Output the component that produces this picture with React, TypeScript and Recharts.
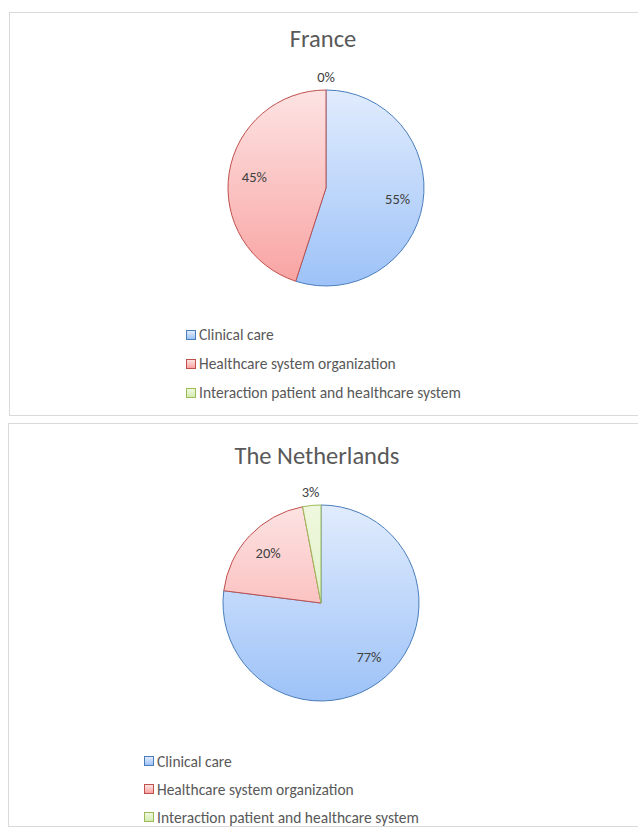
import { PieChart, Pie, Cell, Legend } from "recharts"

const categories = ["Clinical care", "Healthcare system organization", "Interaction patient and healthcare system"]
const franceValues = [55, 45, 0]
const netherlandsValues = [77, 20, 3]

const STROKES = ["#4a7ebb", "#c0504d", "#9bbb59"]
const GRADS = [
  ["#e1ecfd", "#9dc2f8"],
  ["#fde3e3", "#f8a3a1"],
  ["#eff8df", "#d4ebb0"],
]
const FONT = "Carlito, 'Open Sans', sans-serif"
const RADIAN = Math.PI / 180

function renderLabel(props: any) {
  const { cx, cy, midAngle, outerRadius, percent } = props
  const r = percent < 0.05 ? outerRadius + 13 : outerRadius * 0.74
  const x = cx + r * Math.cos(-midAngle * RADIAN)
  const y = cy + r * Math.sin(-midAngle * RADIAN)
  return (
    <text x={x} y={y} fill="#404040" fontSize={14.5} fontFamily={FONT} textAnchor="middle" dominantBaseline="central">
      {`${Math.round(percent * 100)}%`}
    </text>
  )
}

function LegendBox({ rowH }: { rowH: number }) {
  return (
    <div style={{ fontFamily: FONT, fontSize: 15.5, color: "#595959" }}>
      {categories.map((c, i) => (
        <div key={c} style={{ display: "flex", alignItems: "center", height: rowH, whiteSpace: "nowrap" }}>
          <span
            style={{
              width: 8,
              height: 8,
              border: `1px solid ${STROKES[i]}`,
              background: `linear-gradient(${GRADS[i][0]}, ${GRADS[i][1]})`,
              marginRight: 3,
            }}
          />
          {c}
        </div>
      ))}
    </div>
  )
}

function PiePanel({ id, title, values, left, top, cx, cy, legendLeft, legendTop, rowH, titleTop, titleX }: any) {
  const data = categories.map((name, i) => ({ name, value: values[i] }))
  return (
    <div
      style={{
        position: "absolute",
        left,
        top,
        width: 640,
        height: 402,
        border: "1px solid #d9d9d9",
        background: "#fff",
      }}
    >
      <div
        style={{
          position: "absolute",
          top: titleTop,
          left: titleX - 200,
          width: 400,
          textAlign: "center",
          fontFamily: FONT,
          fontSize: 24.5,
          color: "#595959",
          zIndex: 2,
        }}
      >
        {title}
      </div>
      <PieChart width={630} height={402}>
        <defs>
          {GRADS.map((g, i) => (
            <linearGradient key={i} id={`${id}-g${i}`} gradientUnits="userSpaceOnUse" x1={0} y1={cy - 93} x2={0} y2={cy + 103}>
              <stop offset="0%" stopColor={g[0]} />
              <stop offset="100%" stopColor={g[1]} />
            </linearGradient>
          ))}
        </defs>
        <Pie
          data={data}
          dataKey="value"
          cx={cx}
          cy={cy}
          outerRadius={98}
          startAngle={90}
          endAngle={-270}
          label={renderLabel}
          labelLine={false}
          isAnimationActive={false}
          strokeWidth={1}
        >
          {data.map((d, i) => (
            <Cell key={d.name} fill={`url(#${id}-g${i})`} stroke={STROKES[i]} />
          ))}
        </Pie>
        <Legend
          content={() => <LegendBox rowH={rowH} />}
          wrapperStyle={{ position: "absolute", left: legendLeft, top: legendTop, width: "auto" }}
        />
      </PieChart>
    </div>
  )
}

export default function App() {
  return (
    <div style={{ position: "fixed", left: 0, top: 0, width: 638, height: 830, background: "#fff", overflow: "hidden" }}>
      <PiePanel id="fr" title="France" values={franceValues} left={9} top={12} cx={311} cy={170}
        legendLeft={176} legendTop={307} rowH={29} titleTop={11} titleX={313} />
      <PiePanel id="nl" title="The Netherlands" values={netherlandsValues} left={8} top={423} cx={307} cy={174}
        legendLeft={135} legendTop={323} rowH={28} titleTop={17} titleX={308} />
    </div>
  )
}
